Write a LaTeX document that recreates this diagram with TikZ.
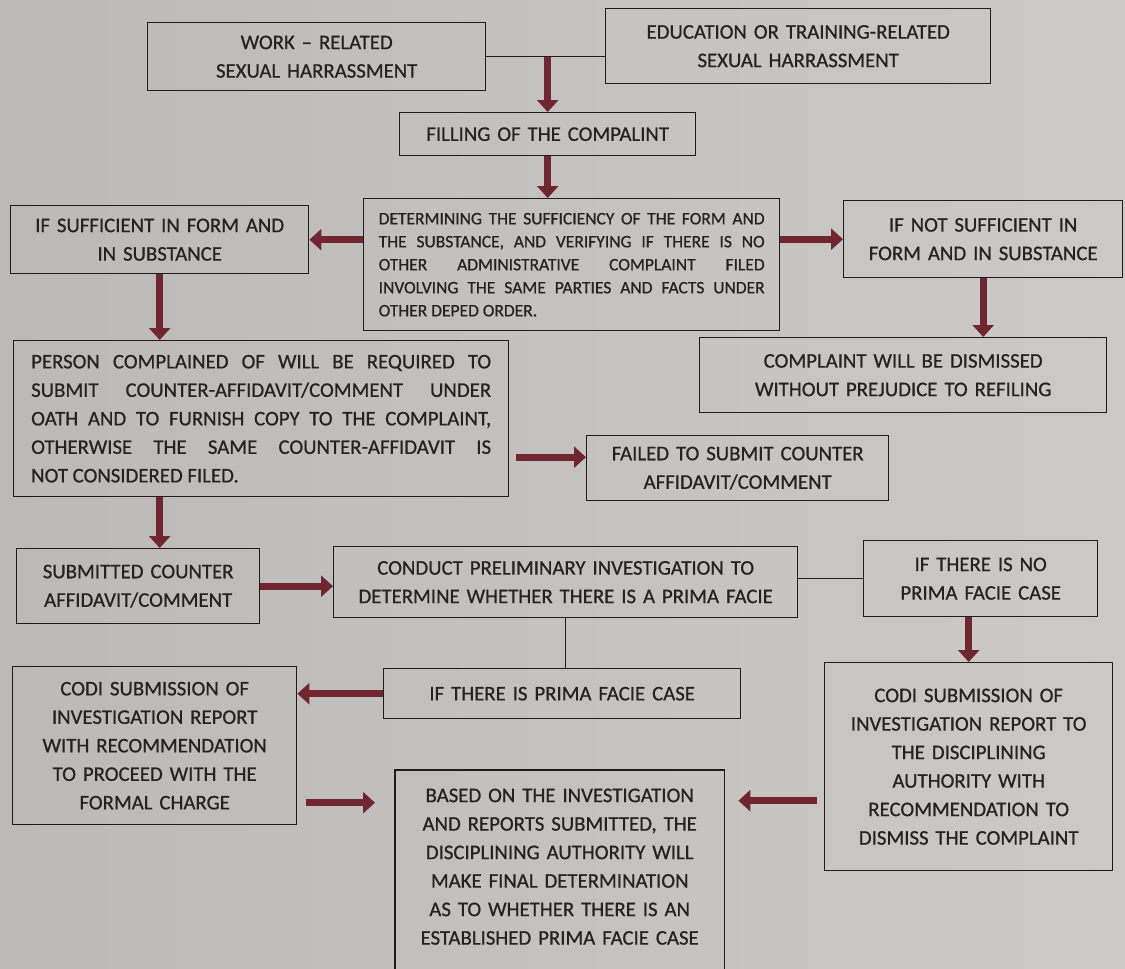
\documentclass[tikz,border=0pt]{standalone}
\usepackage{fontspec}
\setmainfont{Carlito}[FakeBold=0.7]
\usepackage{tikz}
\usetikzlibrary{arrows.meta,calc}
\definecolor{paper}{RGB}{199,197,195}
\definecolor{paperl}{RGB}{188,186,185}
\definecolor{paperr}{RGB}{204,202,200}
\definecolor{ink}{RGB}{36,34,34}
\definecolor{boxline}{RGB}{30,28,28}
\definecolor{maroon}{RGB}{112,38,46}
\tikzset{
  box/.style={draw=boxline,line width=1.4pt,text=ink,inner sep=0pt,anchor=north west,align=center,
    font=\fontsize{20.8}{28.5}\selectfont},               % printed box
  small/.style={font=\fontsize{17.5}{23}\selectfont},    % condensed text
  flow/.style={maroon,line width=7pt,-{Triangle[width=21pt,length=12pt]}},
  tie/.style={boxline,line width=1.1pt},
}
\newcommand{\jline}[1]{\makebox[\hsize][s]{#1}\\}

\begin{document}
\begin{tikzpicture}[x=1pt,y=-1pt]
  \useasboundingbox (0,0) rectangle (1125,969);
  \shade[left color=paperl,right color=paperr] (0,0) rectangle (1125,969);
  \clip (0,0) rectangle (1125,969);
  % complaint and check
  \node[box,minimum width=338,minimum height=68,text width=320] (work) at (147,22) {WORK – RELATED\\SEXUAL HARRASSMENT};
  \node[box,minimum width=385,minimum height=75,text width=370] (edu) at (605,8) {EDUCATION OR TRAINING-RELATED\\SEXUAL HARRASSMENT};
  \node[box,minimum width=296,minimum height=43,text width=280] (fill) at (399,112) {FILLING OF THE COMPALINT};
  \node[box,small,align=justify,minimum width=416,minimum height=132,text width=386] (det) at (363,198)
    {\jline{DETERMINING THE SUFFICIENCY OF THE FORM AND}\jline{THE SUBSTANCE, AND VERIFYING IF THERE IS NO}\jline{OTHER ADMINISTRATIVE COMPLAINT FILED}\jline{INVOLVING THE SAME PARTIES AND FACTS UNDER}OTHER DEPED ORDER.};
  \node[box,minimum width=298,minimum height=68,text width=285] (suff) at (10,205) {IF SUFFICIENT IN FORM AND\\IN SUBSTANCE};
  \node[box,minimum width=279,minimum height=77,text width=265] (notsuff) at (843,200) {IF NOT SUFFICIENT IN\\FORM AND IN SUBSTANCE};
  \node[box,minimum width=407,minimum height=75,text width=390] (dism) at (699,337) {COMPLAINT WILL BE DISMISSED\\WITHOUT PREJUDICE TO REFILING};
  % counter-affidavit
  \node[box,align=justify,minimum width=495,minimum height=156,text width=460] (person) at (13,340)
    {\jline{PERSON COMPLAINED OF WILL BE REQUIRED TO}\jline{SUBMIT COUNTER-AFFIDAVIT/COMMENT UNDER}\jline{OATH AND TO FURNISH COPY TO THE COMPLAINT,}\jline{OTHERWISE THE SAME COUNTER-AFFIDAVIT IS}NOT CONSIDERED FILED.};
  \node[box,minimum width=302,minimum height=65,text width=290] (failed) at (586,435) {FAILED TO SUBMIT COUNTER\\AFFIDAVIT/COMMENT};
  \node[box,minimum width=243,minimum height=75,text width=230] (subm) at (16,548) {SUBMITTED COUNTER\\AFFIDAVIT/COMMENT};
  % investigation
  \node[box,minimum width=464,minimum height=71,text width=450] (conduct) at (333,546) {CONDUCT PRELIMINARY INVESTIGATION TO\\DETERMINE WHETHER THERE IS A PRIMA FACIE};
  \node[box,minimum width=234,minimum height=76,text width=220] (noprima) at (863,540) {IF THERE IS NO\\PRIMA FACIE CASE};
  \node[box,minimum width=357,minimum height=50,text width=340] (prima) at (383,668) {IF THERE IS PRIMA FACIE CASE};
  \node[box,minimum width=284,minimum height=158,text width=270] (codia) at (12,666) {CODI SUBMISSION OF\\INVESTIGATION REPORT\\WITH RECOMMENDATION\\TO PROCEED WITH THE\\FORMAL CHARGE};
  \node[box,minimum width=288,minimum height=208,text width=275] (codib) at (824,662) {CODI SUBMISSION OF\\INVESTIGATION REPORT TO\\THE DISCIPLINING\\AUTHORITY WITH\\RECOMMENDATION TO\\DISMISS THE COMPLAINT};
  \node[box,draw=none,minimum width=328,minimum height=192,text width=315] (based) at (395,770) {BASED ON THE INVESTIGATION\\AND REPORTS SUBMITTED, THE\\DISCIPLINING AUTHORITY WILL\\MAKE FINAL DETERMINATION\\AS TO WHETHER THERE IS AN\\ESTABLISHED PRIMA FACIE CASE};
  \draw[boxline,line width=1.4pt] ([yshift=-60pt]based.south west) -- (based.north west) -- (based.north east) -- ([yshift=-60pt]based.south east);
  % connectors
  \coordinate (f-in) at ([yshift=11pt]failed.west);
  \coordinate (b-in) at ([yshift=64pt]based.west);
  \coordinate (b-out) at ([yshift=66pt]based.east);
  \draw[tie] (work.east) -- (work.east -| edu.west);
  \draw[flow] (fill.north |- work.east) -- (fill.north);
  \draw[flow] (fill.south) -- (fill.south |- det.north);
  \draw[flow] (det.west |- suff.east) -- (suff.east);
  \draw[flow] (det.east |- notsuff.west) -- (notsuff.west);
  \draw[flow] (notsuff.south) -- (notsuff.south |- dism.north);
  \draw[flow] (suff.south) -- (suff.south |- person.north);
  \draw[flow,shorten <=7pt] (person.east |- f-in) -- (f-in);
  \draw[flow] (suff.south |- person.south) -- (suff.south |- subm.north);
  \draw[flow] (subm.east) -- (subm.east -| conduct.west);
  \draw[tie] (conduct.east |- noprima.west) -- (noprima.west);
  \draw[tie] (conduct.south) -- (conduct.south |- prima.north);
  \draw[flow] (prima.west) -- (prima.west -| codia.east);
  \draw[flow] (codib.north |- noprima.south) -- (codib.north);
  \draw[flow,shorten <=9pt,shorten >=20pt] (codia.east |- b-in) -- (b-in);
  \draw[flow,shorten <=7pt,shorten >=14pt] (codib.west |- b-out) -- (b-out);
\end{tikzpicture}
\end{document}
